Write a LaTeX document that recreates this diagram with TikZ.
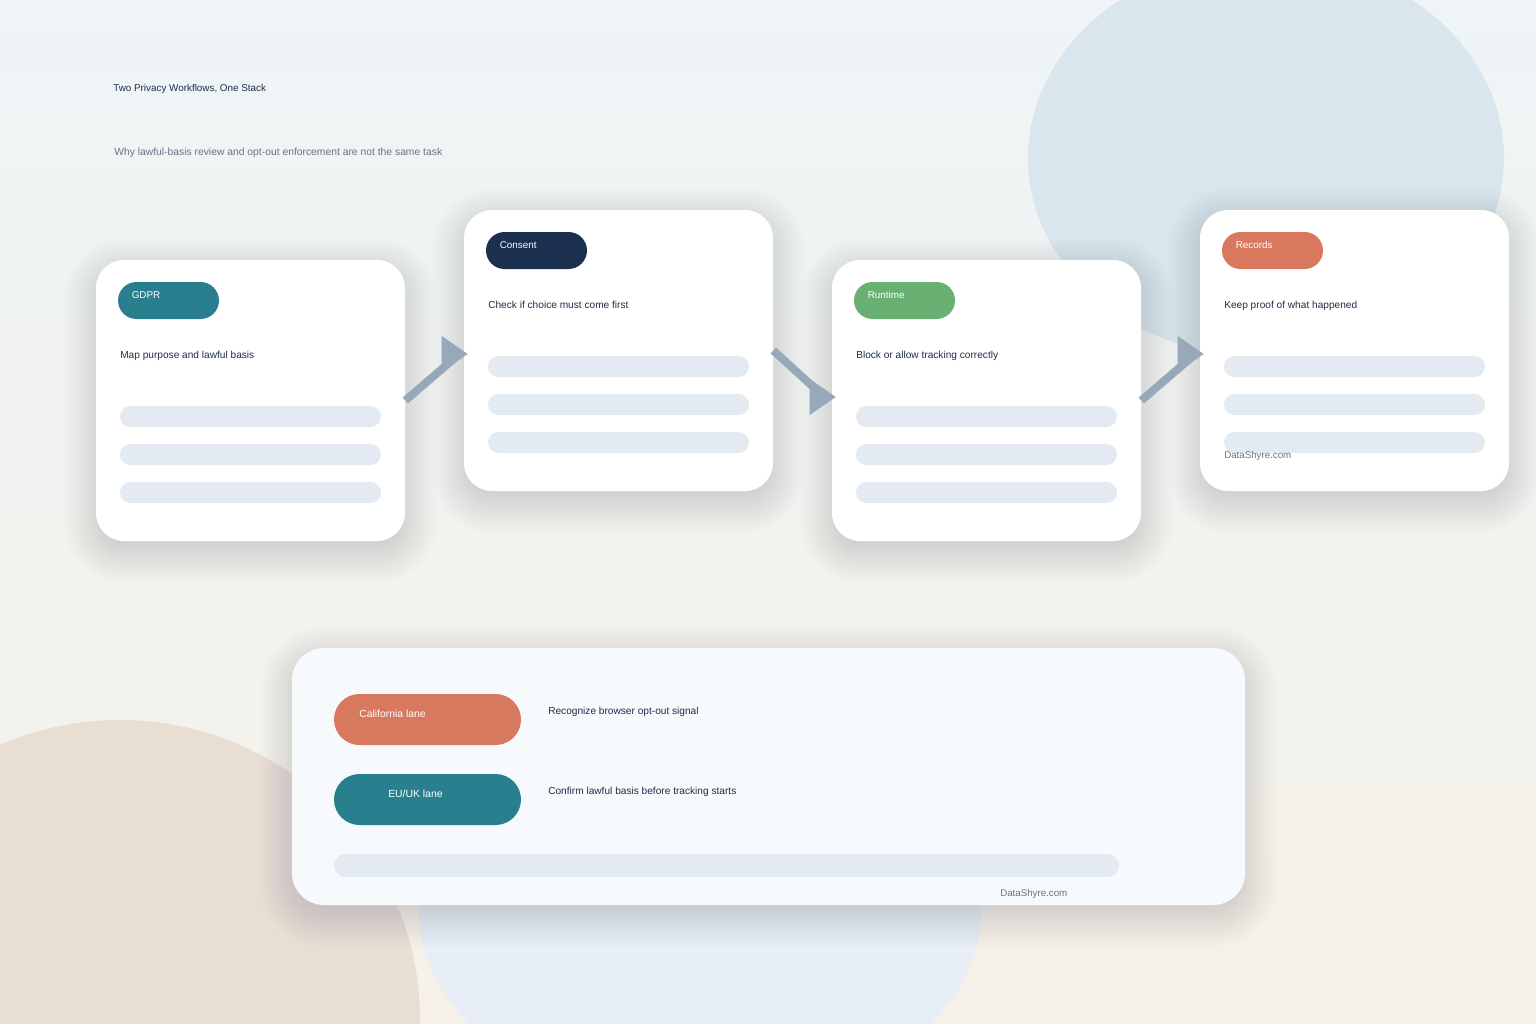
\documentclass[tikz,border=0pt]{standalone}
\usepackage{fontspec}
\setmainfont{Liberation Sans}
\usetikzlibrary{calc}
\definecolor{bgtop}{HTML}{EEF4F7}
\definecolor{bgbot}{HTML}{F6F1E8}
\definecolor{blobblue}{HTML}{D9E6ED}
\definecolor{blobbeige}{HTML}{E9DED2}
\definecolor{blobpale}{HTML}{E7EEF5}
\definecolor{cteal}{HTML}{297F8E}
\definecolor{cnavy}{HTML}{1B2F4E}
\definecolor{cgreen}{HTML}{69B073}
\definecolor{ccoral}{HTML}{D7785F}
\definecolor{cink}{HTML}{1F2D47}
\definecolor{cgray}{HTML}{6B7384}
\definecolor{cbar}{HTML}{E3EAF1}
\definecolor{carrow}{HTML}{97A8BA}
\definecolor{cpanel}{HTML}{F7FAFD}
\definecolor{cshadow}{HTML}{3A4858}
\newcommand\fTitle{\fontsize{7.4pt}{9pt}\selectfont}
\newcommand\fSub{\fontsize{7.75pt}{9pt}\selectfont}
\newcommand\fBrand{\fontsize{7.3pt}{9pt}\selectfont}
\newcommand\fPill{\fontsize{7.4pt}{9pt}\selectfont}
\newcommand\fDesc{\fontsize{7.6pt}{9pt}\selectfont}
\newcommand\fLane{\fontsize{7.8pt}{9pt}\selectfont}
\newcommand\softshadow[5]{% cx cy w h r (px)
  \foreach \i in {1,...,16}{%
    \pgfmathsetmacro\ee{2.5*\i-8}%
    \pgfmathsetmacro\rr{max(#5+\ee,2)*0.75}%
    \fill[cshadow, opacity=0.0095, rounded corners=\rr pt]
      ({#1-#3/2-\ee},{#2-#4/2-\ee+10}) rectangle ({#1+#3/2+\ee},{#2+#4/2+\ee+10});
  }}
\newcommand\cardbits[6]{% name x0 y0 colour label desc
  \node[pill, fill=#4] (#1pill) at ({#2+72.5},{#3+40.5}) {};
  \node[pilltxt] (#1lab) at ({#2+35.5},{#3+38}) {#5};
  \node[desc] (#1desc) at ({#2+24},{#3+98}) {#6};
  \node[bar] (#1barA) at ({#2+154.5},{#3+156.5}) {};
  \node[bar] (#1barB) at ({#2+154.5},{#3+194.5}) {};
  \node[bar] (#1barC) at ({#2+154.5},{#3+232.5}) {};
}
\begin{document}
\begin{tikzpicture}[x=0.75pt,y=-0.75pt,
  card/.style={fill=white, rounded corners=21pt, minimum width=231.75pt, minimum height=210.75pt, inner sep=0pt},
  panelbox/.style={fill=cpanel, rounded corners=24pt, minimum width=714.75pt, minimum height=192.75pt, inner sep=0pt},
  pill/.style={rounded corners=13.875pt, minimum width=75.75pt, minimum height=27.75pt, inner sep=0pt},
  lanepill/.style={rounded corners=19.125pt, minimum width=140.25pt, minimum height=38.25pt, inner sep=0pt},
  bar/.style={fill=cbar, rounded corners=7.875pt, minimum width=195.75pt, minimum height=15.75pt, inner sep=0pt},
  longbar/.style={fill=cbar, rounded corners=8.625pt, minimum width=588.75pt, minimum height=17.25pt, inner sep=0pt},
  pilltxt/.style={text=white, font=\fPill, anchor=base west, inner sep=0pt},
  lanetxt/.style={text=white, font=\fLane, anchor=base west, inner sep=0pt},
  desc/.style={text=cink, font=\fDesc, anchor=base west, inner sep=0pt},
  titletxt/.style={text=cink, font=\fTitle, anchor=base west, inner sep=0pt},
  subtxt/.style={text=cgray, font=\fSub, anchor=base west, inner sep=0pt},
  brand/.style={text=cgray, font=\fBrand, anchor=base west, inner sep=0pt},
  shaft/.style={draw=carrow, line width=6pt},
  head/.style={fill=carrow}]
\useasboundingbox (0,0) rectangle (1536,1024);
\shade[top color=bgtop, bottom color=bgbot] (0,0) rectangle (1536,1024);
\begin{scope}
  \clip (0,0) rectangle (1536,1024);
  \fill[blobblue] (1266,158) ellipse [x radius=238, y radius=200];
  \fill[blobbeige] (120,1020) circle [radius=300];
  \fill[blobpale] (700,910) ellipse [x radius=281, y radius=200];
\end{scope}
% shadows
\softshadow{250.5}{400.5}{309}{281}{28}
\softshadow{618.5}{350.5}{309}{281}{28}
\softshadow{986.5}{400.5}{309}{281}{28}
\softshadow{1354.5}{350.5}{309}{281}{28}
\softshadow{768.5}{776.5}{953}{257}{32}
% title
\node[titletxt] (title) at (113,92) {Two Privacy Workflows, One Stack};
\node[subtxt] (subtitle) at (114,156) {Why lawful-basis review and opt-out enforcement are not the same task};
% cards
\node[card] (c1) at (250.5,400.5) {};
\node[card] (c2) at (618.5,350.5) {};
\node[card] (c3) at (986.5,400.5) {};
\node[card] (c4) at (1354.5,350.5) {};
\cardbits{a}{96}{260}{cteal}{GDPR}{Map purpose and lawful basis}
\cardbits{b}{464}{210}{cnavy}{Consent}{Check if choice must come first}
\cardbits{c}{832}{260}{cgreen}{Runtime}{Block or allow tracking correctly}
\cardbits{d}{1200}{210}{ccoral}{Records}{Keep proof of what happened}
\node[brand] (brand1) at (1224,458) {DataShyre.com};
% arrows
\draw[shaft] (c1.east) -- ($(c2.west)+(-9,7.5)$);
\fill[head] ($(c2.west)+(4,3.5)$) -- ($(c2.west)+(-22,-14.5)$) -- ($(c2.west)+(-22,21.5)$) -- cycle;
\draw[shaft] (c2.east) -- ($(c3.west)+(-14,-9.5)$);
\fill[head] ($(c3.west)+(4,-3.5)$) -- ($(c3.west)+(-22,-21.5)$) -- ($(c3.west)+(-22,14.5)$) -- cycle;
\draw[shaft] (c3.east) -- ($(c4.west)+(-9,7.5)$);
\fill[head] ($(c4.west)+(4,3.5)$) -- ($(c4.west)+(-22,-14.5)$) -- ($(c4.west)+(-22,21.5)$) -- cycle;
% bottom panel
\node[panelbox] (panel) at (768.5,776.5) {};
\node[lanepill, fill=ccoral] (calpill) at (427.5,719.5) {};
\node[lanetxt] (callab) at (359,717) {California lane};
\node[lanepill, fill=cteal] (eupill) at (427.5,799.5) {};
\node[lanetxt] (eulab) at (388,797) {EU/UK lane};
\node[desc] (caldesc) at (548,714) {Recognize browser opt-out signal};
\node[desc] (eudesc) at (548,794) {Confirm lawful basis before tracking starts};
\node[longbar] (pbar) at (726.5,865.5) {};
\node[brand] (brand2) at (1000,896) {DataShyre.com};
\end{tikzpicture}
\end{document}
